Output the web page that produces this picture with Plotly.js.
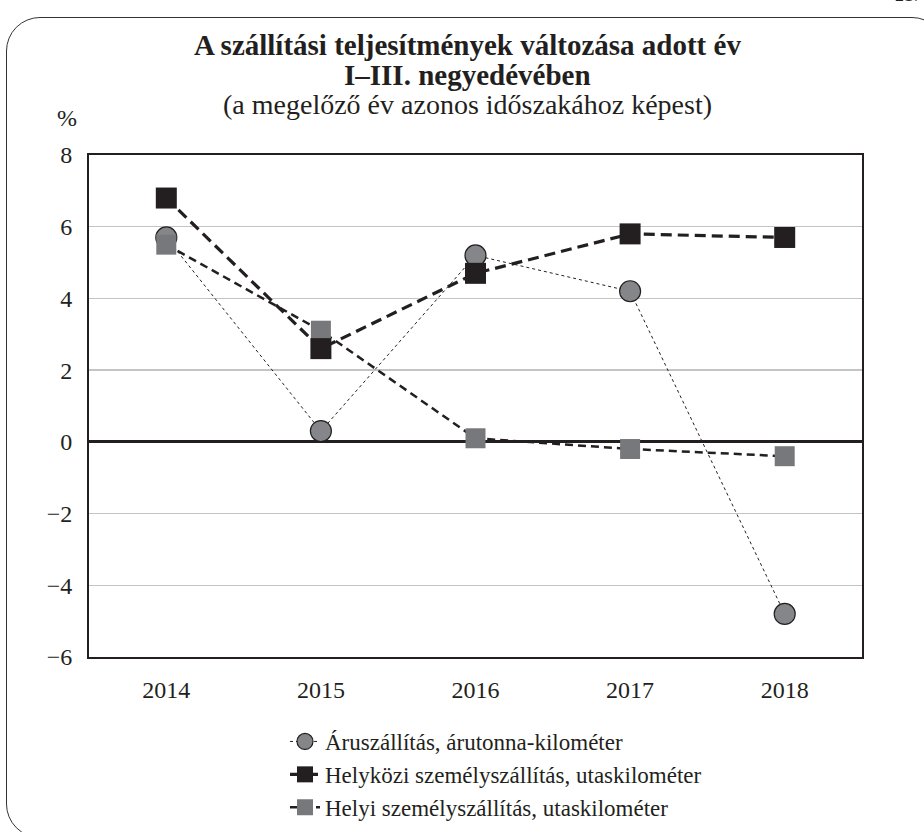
<!DOCTYPE html>
<html>
<head>
<meta charset="utf-8">
<script src="https://cdn.plot.ly/plotly-3.0.1.min.js"></script>
<style>
html,body{margin:0;padding:0;background:#fff;overflow:hidden;}
#wrap{position:relative;width:924px;height:832px;overflow:hidden;}
#frame{position:absolute;left:6px;top:17px;width:940px;height:821px;border:1.5px solid #333;border-radius:34px;pointer-events:none;box-sizing:border-box;z-index:5;}
#chart{position:absolute;left:0;top:0;width:924px;height:832px;}
</style>
</head>
<body>
<div id="wrap">
<div id="chart"></div>
<div id="frame"></div>
</div>
<script>
var years = ['2014','2015','2016','2017','2018'];
var aruszallitas = [5.7, 0.3, 5.2, 4.2, -4.8];
var helykozi = [6.8, 2.6, 4.7, 5.8, 5.7];
var helyi = [5.5, 3.1, 0.1, -0.2, -0.4];
var seriesNames = ['Áruszállítás, árutonna-kilométer','Helyközi személyszállítás, utaskilométer','Helyi személyszállítás, utaskilométer'];
var yTicks = [-6,-4,-2,0,2,4,6,8];
var yTickText = ['\u22126','\u22124','\u22122','0','2','4','6','8'];
var titleLines = ['A szállítási teljesítmények változása adott év','I–III. negyedévében','(a megelőző év azonos időszakához képest)'];
var yUnit = '%';

var serif = "'Liberation Serif', 'Times New Roman', serif";
var ink = '#231f20';

var traces = [
  {x: years, y: aruszallitas, name: seriesNames[0], type:'scatter', mode:'lines+markers', legendrank:1,
   line:{color:ink, width:1, dash:'3px,3px'},
   marker:{symbol:'circle', size:21, color:'#85868a', line:{color:ink, width:1.2}}},
  {x: years, y: helyi, name: seriesNames[2], type:'scatter', mode:'lines+markers', legendrank:3,
   line:{color:ink, width:2.5, dash:'8px,5px'},
   marker:{symbol:'square', size:20, color:'#77787b', line:{width:0}}},
  {x: years, y: helykozi, name: seriesNames[1], type:'scatter', mode:'lines+markers', legendrank:2,
   line:{color:ink, width:3.2, dash:'11px,6px'},
   marker:{symbol:'square', size:21, color:ink, line:{width:0}}}
];

function py(p){ return 1 - (p - 155) / 502; }
function px(p){ return (p - 89) / 773; }

var layout = {
  width:924, height:832,
  paper_bgcolor:'#fff', plot_bgcolor:'#fff',
  margin:{l:89, r:62, t:155, b:175, autoexpand:false},
  font:{family:serif, color:ink, size:24},
  xaxis:{type:'category', range:[-0.5,4.5], showgrid:false, zeroline:false,
    showline:true, mirror:true, linecolor:ink, linewidth:2,
    ticks:'', tickfont:{family:serif, size:24, color:ink}, ticklabelstandoff:10, fixedrange:true, automargin:false},
  yaxis:{range:[-6,8], tickvals:yTicks, ticktext:yTickText, showgrid:true, gridcolor:'#c4c4c6', gridwidth:1.5,
    zeroline:true, zerolinecolor:ink, zerolinewidth:3,
    showline:true, mirror:true, linecolor:ink, linewidth:2,
    ticks:'', tickfont:{family:serif, size:24, color:ink}, ticklabelstandoff:10, fixedrange:true, automargin:false},
  showlegend:true,
  legend:{orientation:'v', x:px(285), xanchor:'left', y:py(720), yanchor:'top', traceorder:'normal',
    font:{family:serif, size:23, color:ink}, bgcolor:'rgba(0,0,0,0)'},
  annotations:[
    {text:'<b>'+titleLines[0]+'</b>', xref:'paper', yref:'paper', x:px(467), y:py(45), xanchor:'center', yanchor:'middle', showarrow:false,
     font:{family:serif, size:29, color:ink}},
    {text:'<b>'+titleLines[1]+'</b>', xref:'paper', yref:'paper', x:px(467), y:py(75), xanchor:'center', yanchor:'middle', showarrow:false,
     font:{family:serif, size:29, color:ink}},
    {text:titleLines[2], xref:'paper', yref:'paper', x:px(467), y:py(104), xanchor:'center', yanchor:'middle', showarrow:false,
     font:{family:serif, size:28, color:ink}},
    {text:yUnit, xref:'paper', yref:'paper', x:px(67), y:py(118), xanchor:'center', yanchor:'middle', showarrow:false,
     font:{family:serif, size:24, color:ink}},
    {text:'217', xref:'paper', yref:'paper', x:px(924), y:py(7), xanchor:'right', yanchor:'bottom', showarrow:false,
     font:{family:serif, size:18, color:ink}}
  ]
};

Plotly.newPlot('chart', traces, layout, {displayModeBar:false, staticPlot:true});
</script>
</body>
</html>
